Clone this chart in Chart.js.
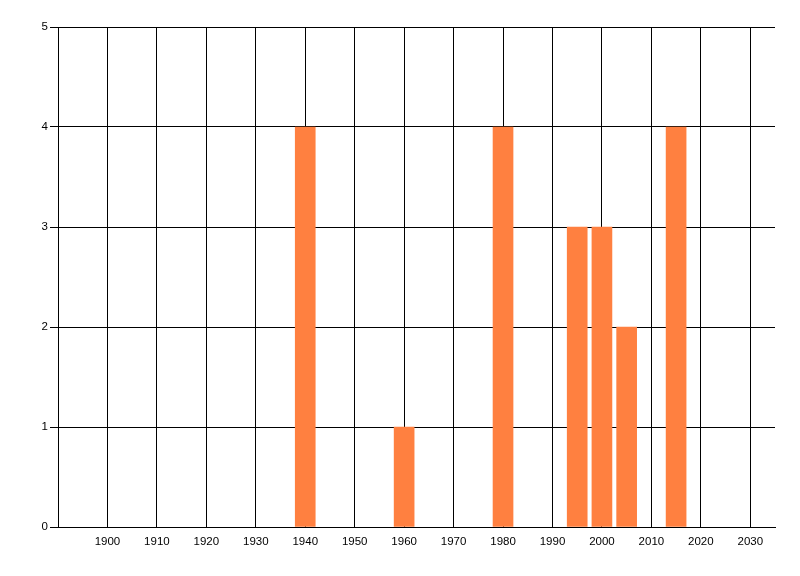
<!DOCTYPE html>
<html>
<head>
<meta charset="utf-8">
<script src="https://cdn.jsdelivr.net/npm/chart.js@4/dist/chart.umd.min.js"></script>
<style>
  html, body { margin: 0; padding: 0; background: #fff; }
  #wrap { width: 800px; height: 576px; }
</style>
</head>
<body>
<div id="wrap"><canvas id="yearChart" width="800" height="576"></canvas></div>
<script>
// values
const years = [1940, 1960, 1980, 1995, 2000, 2005, 2015];
const counts = [4, 1, 4, 3, 3, 2, 4];
const xTicks = [1900, 1910, 1920, 1930, 1940, 1950, 1960, 1970, 1980, 1990, 2000, 2010, 2020, 2030];
const yTicks = [0, 1, 2, 3, 4, 5];

const ctx = document.getElementById('yearChart').getContext('2d');

let points = [];
years.forEach((yr, i) => {
    points.push({ x: yr, y: counts[i] });
});

const tickFont = { family: 'Liberation Sans', size: 11.5 };

const myChart = new Chart(ctx, {
    type: 'bar',
    data: {
        datasets: [{
            data: points,
            backgroundColor: '#ff8040',
            borderWidth: 0,
            barThickness: 20
        }]
    },
    options: {
        responsive: false,
        animation: false,
        layout: { padding: { top: 27, right: 25, left: 0, bottom: 0 } },
        plugins: { legend: { display: false }, tooltip: { enabled: false } },
        scales: {
            x: {
                type: 'linear',
                min: 1890,
                max: 2035,
                offset: false,
                grid: { offset: false, color: '#000', lineWidth: 1, drawTicks: false },
                border: { color: '#000', width: 1 },
                ticks: {
                    color: '#000', font: tickFont, padding: 8, maxRotation: 0, autoSkip: false,
                    callback: (v) => String(v)
                },
                afterBuildTicks: (scale) => { scale.ticks = xTicks.map(v => ({ value: v })); },
                afterFit: (scale) => { scale.height = 49; }
            },
            y: {
                min: 0,
                max: 5,
                grid: { color: '#000', lineWidth: 1, tickLength: 8 },
                border: { color: '#000', width: 1 },
                ticks: { color: '#000', font: tickFont, padding: 2, callback: (v) => String(v) },
                afterBuildTicks: (scale) => { scale.ticks = yTicks.map(v => ({ value: v })); },
                afterFit: (scale) => { scale.width = 58; }
            }
        }
    }
});
</script>
</body>
</html>
